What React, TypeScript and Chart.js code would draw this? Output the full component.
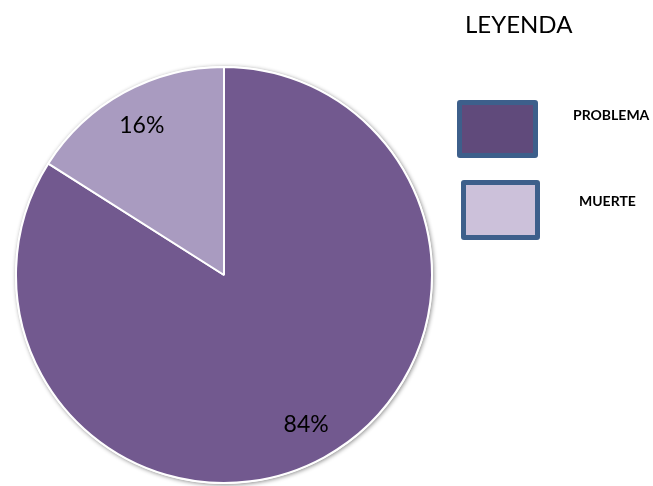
import React, { useEffect, useRef } from "react";
import { Chart, registerables } from "chart.js";

Chart.register(...registerables);

const categories = ["PROBLEMA", "MUERTE"];
const values = [84, 16];
const percentLabels = ["84%", "16%"];
const sliceColors = ["#72598F", "#A99BC0"];
const legendFills = ["#604A7B", "#CCC1DA"];
const legendTitle = "LEYENDA";

const shadowPlugin = {
  id: "pieShadow",
  beforeDatasetsDraw(chart: any) {
    const meta = chart.getDatasetMeta(0);
    const arc = meta.data[0];
    if (!arc) return;
    const { x, y, outerRadius } = arc.getProps(["x", "y", "outerRadius"], true);
    const ctx = chart.ctx;
    ctx.save();
    ctx.beginPath();
    ctx.arc(x, y, outerRadius + 1, 0, Math.PI * 2);
    ctx.fillStyle = "#ffffff";
    ctx.shadowColor = "rgba(0,0,0,0.45)";
    ctx.shadowBlur = 4;
    ctx.shadowOffsetX = 1;
    ctx.shadowOffsetY = 1;
    ctx.fill();
    ctx.restore();
  },
};

const labelPlugin = {
  id: "pctLabels",
  afterDatasetsDraw(chart: any) {
    const meta = chart.getDatasetMeta(0);
    const ctx = chart.ctx;
    ctx.save();
    ctx.font = "23px Lato";
    ctx.fillStyle = "#000000";
    ctx.textAlign = "center";
    ctx.textBaseline = "middle";
    meta.data.forEach((arc: any, i: number) => {
      const { x, y, startAngle, endAngle, outerRadius } = arc.getProps(
        ["x", "y", "startAngle", "endAngle", "outerRadius"],
        true
      );
      const mid = (startAngle + endAngle) / 2;
      const r = outerRadius * 0.82;
      ctx.fillText(percentLabels[i], x + Math.cos(mid) * r, y + Math.sin(mid) * r);
    });
    ctx.restore();
  },
};

export default function App() {
  const ref = useRef<HTMLCanvasElement>(null);
  useEffect(() => {
    document.body.style.margin = "0";
    const chart = new Chart(ref.current!, {
      type: "pie",
      data: {
        labels: categories,
        datasets: [
          {
            data: values,
            backgroundColor: sliceColors,
            borderColor: "#ffffff",
            borderWidth: 2,
          },
        ],
      },
      options: {
        animation: false,
        responsive: false,
        layout: { padding: { left: 15, top: 66, right: 220, bottom: 2 } },
        plugins: {
          legend: { display: false },
          tooltip: { enabled: false },
        },
      },
      plugins: [shadowPlugin, labelPlugin],
    });
    return () => chart.destroy();
  }, []);

  const boxStyle = (i: number, left: number, top: number, w: number, h: number): React.CSSProperties => ({
    position: "absolute",
    left,
    top,
    width: w,
    height: h,
    boxSizing: "border-box",
    border: "5px solid #3D5F8B",
    borderRadius: 3,
    background: legendFills[i],
  });

  const itemText: React.CSSProperties = {
    position: "absolute",
    fontFamily: "Lato",
    fontWeight: 700,
    fontSize: 14,
    lineHeight: "18px",
    color: "#000",
  };

  return (
    <div style={{ position: "relative", width: 653, height: 486, background: "#fff" }}>
      <canvas ref={ref} width={653} height={486} style={{ position: "absolute", left: 0, top: 0 }} />
      <div
        style={{
          position: "absolute",
          left: 465,
          top: 8,
          fontFamily: "Lato",
          fontSize: 24,
          lineHeight: "32px",
          color: "#000",
        }}
      >
        {legendTitle}
      </div>
      <div style={boxStyle(0, 457, 100, 81, 58)} />
      <div style={boxStyle(1, 461, 180, 79, 60)} />
      <div style={{ ...itemText, left: 573, top: 106 }}>{categories[0]}</div>
      <div style={{ ...itemText, left: 579, top: 192 }}>{categories[1]}</div>
    </div>
  );
}
